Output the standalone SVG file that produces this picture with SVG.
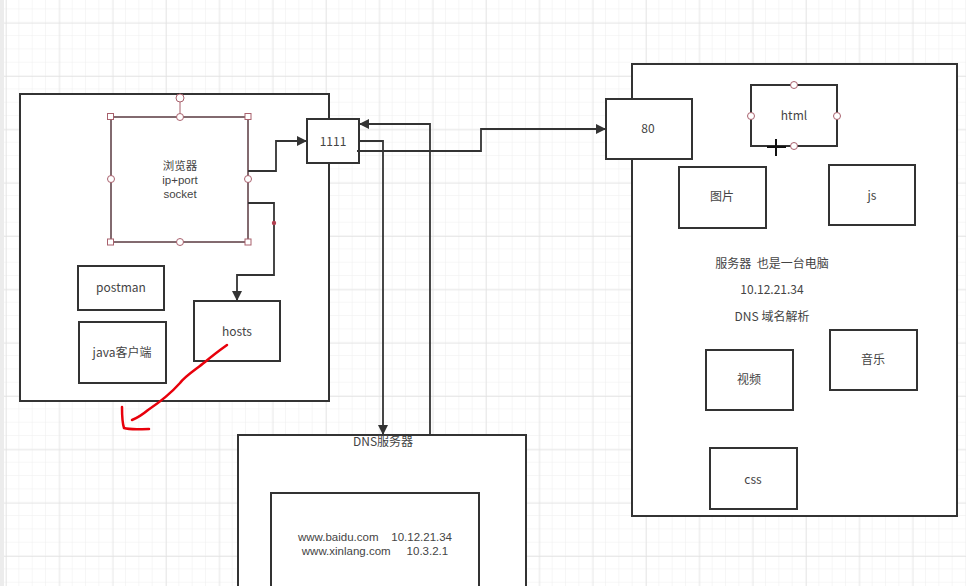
<svg xmlns="http://www.w3.org/2000/svg" width="966" height="586" viewBox="0 0 966 586">
<defs>
<pattern id="minor" width="13.333" height="13.333" patternUnits="userSpaceOnUse" x="6" y="22.7">
<path d="M13.333 0V13.333M0 13.333H13.333" fill="none" stroke="#eeeeee" stroke-width="1"/>
</pattern>
<pattern id="major" width="53.333" height="53.333" patternUnits="userSpaceOnUse" x="6" y="22.7">
<path d="M0 0V53.333M0 0H53.333" fill="none" stroke="#e2e2e2" stroke-width="1.3"/>
</pattern>
<marker id="arr" viewBox="0 0 10 10" refX="9" refY="5" markerWidth="10" markerHeight="10" markerUnits="userSpaceOnUse" orient="auto">
<path d="M0 0L10 5L0 10Z" fill="#333"/>
</marker>
</defs>
<style>
.box{fill:#fff;stroke:#333;stroke-width:2}
.sel{fill:#fff;stroke:#5a3a40;stroke-width:1.5}
.h{fill:#fff;stroke:#a8606c;stroke-width:1}
.t{font-family:"Noto Sans CJK SC","Liberation Sans",sans-serif;font-size:12px;fill:#444;text-anchor:middle;white-space:pre}
.l{font-family:"Liberation Sans","Noto Sans CJK SC",sans-serif}
.s{font-size:11.5px}
.c{fill:none;stroke:#333;stroke-width:1.8}
.red{fill:none;stroke:#e8000b;stroke-width:2.5;stroke-linecap:round;stroke-linejoin:round}
</style>
<rect width="966" height="586" fill="#fff"/>
<rect width="966" height="586" fill="url(#minor)"/>
<rect width="966" height="586" fill="url(#major)"/>
<rect x="0" y="0" width="4" height="586" fill="#ececec"/>

<g id="client">
<rect class="box" x="20" y="94" width="309" height="307"/>
</g>
<g id="server">
<rect class="box" x="632" y="64" width="325" height="452"/>
<text class="t" x="772" y="268">服务器&#160;&#160;也是一台电脑</text>
<text class="t" x="772" y="294">10.12.21.34</text>
<text class="t" x="772" y="321">DNS 域名解析</text>
</g>
<g id="dns">
<rect class="box" x="238" y="435" width="288" height="160"/>
<text class="t" x="383" y="446">DNS服务器</text>
</g>
<g id="dnstable">
<rect class="box" x="271" y="493" width="208" height="100"/>
<text class="t s l" x="375" y="541">www.baidu.com&#160;&#160;&#160;&#160;10.12.21.34</text>
<text class="t s l" x="375" y="555">www.xinlang.com&#160;&#160;&#160;&#160;&#160;10.3.2.1</text>
</g>
<g id="browser">
<rect class="sel" x="111" y="117" width="137" height="125"/>
<line x1="180" y1="101" x2="180" y2="113" stroke="#a8606c" stroke-width="1"/>
<circle class="h" cx="180" cy="98" r="4"/>
<rect class="h" x="107.5" y="113.5" width="6" height="6"/>
<rect class="h" x="245" y="113.5" width="6" height="6"/>
<rect class="h" x="107.5" y="239" width="6" height="6"/>
<rect class="h" x="245" y="239" width="6" height="6"/>
<circle class="h" cx="180" cy="117" r="3.5"/>
<circle class="h" cx="180" cy="242" r="3.5"/>
<circle class="h" cx="111" cy="179" r="3.5"/>
<circle class="h" cx="248" cy="179" r="3.5"/>
<text class="t s" x="180" y="170">浏览器</text>
<text class="t s l" x="180" y="184">ip+port</text>
<text class="t s l" x="180" y="198">socket</text>
</g>
<g id="postman">
<rect class="box" x="78" y="266" width="86" height="44"/>
<text class="t" x="121" y="292">postman</text>
</g>
<g id="java">
<rect class="box" x="79" y="322" width="87" height="61"/>
<text class="t" x="122" y="357">java客户端</text>
</g>
<g id="hosts">
<rect class="box" x="194" y="301" width="86" height="60"/>
<text class="t" x="237" y="336">hosts</text>
</g>
<g id="port1111">
<rect class="box" x="307" y="119" width="52" height="44"/>
<text class="t" x="333" y="146">1111</text>
</g>
<g id="port80">
<rect class="box" x="606" y="99" width="86" height="60"/>
<text class="t" x="648" y="133">80</text>
</g>
<g id="html">
<rect class="box" x="751" y="85" width="86" height="61"/>
<circle class="h" cx="794" cy="85" r="3.5"/>
<circle class="h" cx="751" cy="116" r="3.5"/>
<circle class="h" cx="837" cy="116" r="3.5"/>
<circle class="h" cx="794" cy="146" r="3.5"/>
<text class="t" x="794" y="120">html</text>
</g>
<g id="pic">
<rect class="box" x="679" y="167" width="87" height="61"/>
<text class="t" x="722" y="201">图片</text>
</g>
<g id="js">
<rect class="box" x="829" y="165" width="86" height="60"/>
<text class="t" x="872" y="200">js</text>
</g>
<g id="video">
<rect class="box" x="706" y="350" width="87" height="60"/>
<text class="t" x="749" y="384">视频</text>
</g>
<g id="music">
<rect class="box" x="830" y="330" width="87" height="60"/>
<text class="t" x="873" y="364">音乐</text>
</g>
<g id="css">
<rect class="box" x="710" y="448" width="87" height="61"/>
<text class="t" x="753" y="484">css</text>
</g>

<g id="connectors">
<path class="c" d="M248 171H276V141H306" marker-end="url(#arr)"/>
<path class="c" d="M248 203H274V275H237V300" marker-end="url(#arr)"/>
<circle cx="274" cy="223" r="2.2" fill="#b04050"/>
<path class="c" d="M360 141H383V434" marker-end="url(#arr)"/>
<path class="c" d="M430 435V124H360" marker-end="url(#arr)"/>
<path class="c" d="M357 151H481V129H605" marker-end="url(#arr)"/>
</g>

<g id="cursor">
<line x1="767" y1="147" x2="786" y2="147" stroke="#111" stroke-width="2"/>
<line x1="776" y1="139" x2="776" y2="156" stroke="#111" stroke-width="2"/>
</g>
<g id="scribble">
<path class="red" d="M227 345C220 350 212 356 205 362C195 370 185 376 180 383C172 392 160 402 148 410C142 415 137 418 132 420"/>
<path class="red" d="M122 407C122 415 122 422 124 428C130 430 140 429 149 429"/>
</g>
</svg>
